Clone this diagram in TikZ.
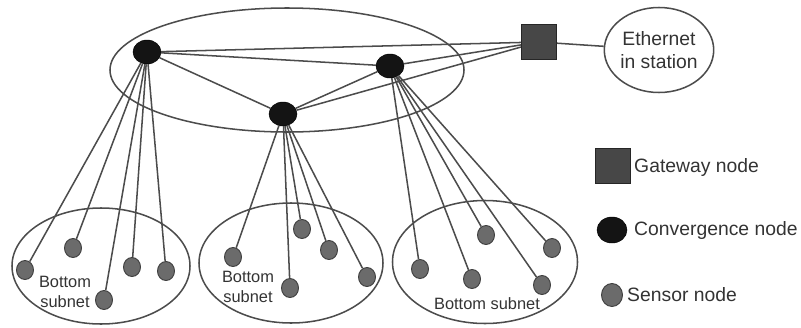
\documentclass[tikz,border=0pt]{standalone}
\usepackage{fontspec}
\setmainfont{Liberation Sans}
\usetikzlibrary{shapes.geometric}

\begin{document}
\begin{tikzpicture}[x=0.03cm, y=-0.03cm,
    link/.style={draw=black!70, line width=1.3pt},
    region/.style={ellipse, draw=black!70, line width=1.3pt, inner sep=0pt},
    conv/.style={ellipse, fill=black!92, draw=black, inner sep=0pt, minimum width=0.84cm, minimum height=0.72cm},
    sensor/.style={ellipse, fill=black!58, draw=black!75, line width=0.8pt, inner sep=0pt, minimum width=0.51cm, minimum height=0.57cm},
    gate/.style={rectangle, fill=black!72, draw=black!85, line width=0.8pt, inner sep=0pt, minimum size=1.05cm},
    lbl/.style={font=\fontsize{16.5}{20}\selectfont, text=black!80, inner sep=0pt},
    sublbl/.style={font=\fontsize{14}{17}\selectfont, text=black!80, inner sep=0pt, align=center}]

        % fixing the size of the picture
        \useasboundingbox (0,0) rectangle (801,327);

        % the regions (top net and the three bottom subnets)
        \node[region, minimum width=10.62cm, minimum height=3.72cm] (top) at (287,70) {};
        \node[region, minimum width=5.34cm, minimum height=3.48cm] (subL) at (101,266) {};
        \node[region, minimum width=5.52cm, minimum height=3.6cm] (subM) at (291,263) {};
        \node[region, minimum width=5.55cm, minimum height=3.69cm] (subR) at (485,262) {};
        \node[region, minimum width=3.18cm, minimum height=2.55cm, lbl, align=center] (eth) at (659,50) {Ethernet\\in station};

        % convergence nodes and the gateway
        \node[conv] (A) at (147,52) {};
        \node[conv] (B) at (390,66) {};
        \node[conv] (C) at (283,114) {};
        \node[gate] (G) at (539,42) {};

        % sensor nodes of the left subnet
        \node[sensor] (l1) at (25,270) {};
        \node[sensor] (l2) at (73,248) {};
        \node[sensor] (l3) at (104,300) {};
        \node[sensor] (l4) at (132,267) {};
        \node[sensor] (l5) at (166,271) {};
        % sensor nodes of the middle subnet
        \node[sensor] (m1) at (233,257) {};
        \node[sensor] (m2) at (302,229) {};
        \node[sensor] (m3) at (329,250) {};
        \node[sensor] (m4) at (290,288) {};
        \node[sensor] (m5) at (367,277) {};
        % sensor nodes of the right subnet
        \node[sensor] (r1) at (420,269) {};
        \node[sensor] (r2) at (472,279) {};
        \node[sensor] (r3) at (486,235) {};
        \node[sensor] (r4) at (552,248) {};
        \node[sensor] (r5) at (542,285) {};

        % subnet labels
        \node[sublbl] (tL) at (65,292) {Bottom\\subnet};
        \node[sublbl] (tM) at (248,287) {Bottom\\subnet};
        \node[sublbl] (tR) at (487,304) {Bottom subnet};

        % links of the top net
        \draw[link] (A) -- (B);
        \draw[link] (A) -- (C);
        \draw[link] (C) -- (B);
        \draw[link] (A) -- (G);
        \draw[link] (B) -- (G);
        \draw[link] (C) -- (G);
        \draw[link] (G) -- (eth);

        % links down to the sensors
        \foreach \s in {l1,l2,l3,l4,l5} \draw[link] (A) -- (\s);
        \foreach \s in {m1,m2,m3,m4,m5} \draw[link] (C) -- (\s);
        \foreach \s in {r1,r2,r3,r4,r5} \draw[link] (B) -- (\s);

        % legend
        \node[gate] (kG) at (613,166) {};
        \node[lbl, anchor=west] (kGt) at (634,167) {Gateway node};
        \node[conv, minimum width=0.9cm, minimum height=0.78cm] (kC) at (612,230) {};
        \node[lbl, anchor=west] (kCt) at (634,230) {Convergence node};
        \node[sensor, minimum width=0.63cm, minimum height=0.69cm] (kS) at (612,295) {};
        \node[lbl, anchor=west] (kSt) at (627,295) {Sensor node};
	\end{tikzpicture}
\end{document}
